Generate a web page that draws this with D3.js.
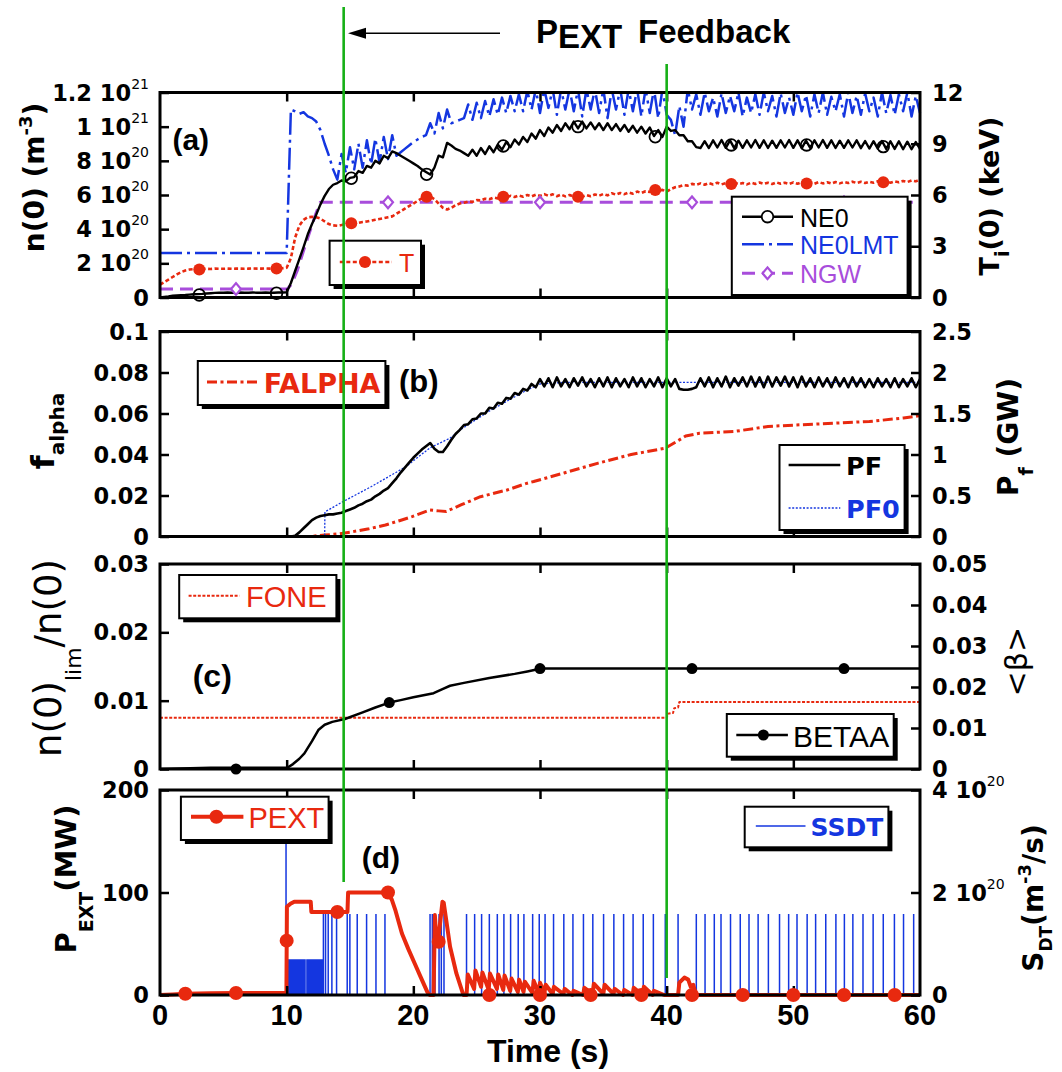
<!DOCTYPE html>
<html>
<head>
<meta charset="utf-8">
<script src="https://cdn.jsdelivr.net/npm/d3@7"></script>
<style>
html, body { margin: 0; padding: 0; background: #fff; }
svg { display: block; }
</style>
</head>
<body>
<svg id="chart" width="1062" height="1072"></svg>
<script>
// ------------------------------------------------------------------
// Data. Densely sampled traces use a fixed 1/3 s step from t = 0 s.
// ------------------------------------------------------------------
const STEP = 1 / 3;

// (a) central density NE0 [1e20 m^-3]
const ne0 = [
  0, .03, .06, .1, .12, .14, .15, .17, .19, .2, .21, .23, .25,
  .27, .28, .28, .29, .28, .28, .29, .28, .28, .29, .28, .28, .29, .28, .28, .29, .29,
  .3,
  .85, 1.55, 2.25, 2.95, 3.7, 4.3, 4.85, 5.45, 5.95, 6.35, 6.6,
  6.7, 6.85, 6.8, 7.0, 7.05, 7.4, 7.3, 7.7, 7.6, 8.0, 7.85, 8.3, 8.15, 8.55,
  8.45, 8.3, 8.15, 8.0, 7.85, 7.7, 7.5, 7.35, 7.2,
  7.6, 8.3, 8.2, 9.05,
  8.9, 8.7, 8.6, 8.45, 8.3,
  8.65, 8.3, 8.75, 8.4, 8.85, 8.5, 8.95, 8.65, 9.1, 8.8, 9.25, 8.95, 9.4, 9.1, 9.6, 9.3,
  9.8, 9.45, 9.95, 9.65, 10.1, 9.75, 10.2, 9.85, 10.3, 9.9, 10.3, 9.9, 10.25, 9.85, 10.2, 9.8,
  10.2, 9.8, 10.15, 9.75, 10.1, 9.7, 10.05, 9.65, 10.0, 9.6, 9.95, 9.45, 9.8, 9.4,
  10.0, 9.75, 9.8, 9.5, 9.5, 9.15, 9.15, 8.8, 8.75, 9.15,
  8.75, 9.2, 8.78, 9.22, 8.76, 9.2, 8.74, 9.18, 8.76, 9.2,
  8.78, 9.22, 8.76, 9.2, 8.75, 9.18, 8.76, 9.2, 8.78, 9.22,
  8.76, 9.2, 8.74, 9.18, 8.76, 9.2, 8.78, 9.22, 8.76, 9.2,
  8.75, 9.18, 8.76, 9.2, 8.78, 9.2, 8.74, 9.16, 8.72, 9.15,
  8.72, 9.16, 8.7, 9.14, 8.7, 9.14, 8.68, 9.12, 8.68, 9.1,
  8.7
];

// (a) density limit NE0LMT [1e20 m^-3]
const ne0lmt = [
  2.6, 2.6, 2.6, 2.6, 2.6, 2.6, 2.6, 2.6, 2.6, 2.6, 2.6, 2.6, 2.6, 2.6, 2.6, 2.6,
  2.6, 2.6, 2.6, 2.6, 2.6, 2.6, 2.6, 2.6, 2.6, 2.6, 2.6, 2.6, 2.6, 2.6, 2.6,
  11.0, 10.9, 10.75, 10.85, 10.6, 10.5, 10.3, 9.8, 9.0, 8.3, 7.5, 6.9,
  8.4, 7.3, 8.8, 7.5, 9.0, 7.6, 9.2, 7.8, 9.3, 7.9, 9.4, 8.1, 9.5, 8.3,
  8.5, 8.7, 8.9, 9.1, 9.25, 9.4, 9.5,
  10.2, 9.6, 10.8, 9.9, 11.0, 10.2, 10.3, 10.4, 10.5,
  11.3, 10.4, 11.4, 10.5, 11.5, 10.6, 11.6, 10.7, 11.7, 10.8, 11.8, 10.9, 11.9, 10.9,
  12.1, 11.0, 12.2, 10.8, 12.2, 11.1, 12.2, 10.7, 12.2, 11.0, 12.2, 10.9, 12.2, 10.6, 12.2, 11.0, 12.2,
  10.8, 12.2, 10.5, 12.2, 11.0, 12.2, 10.7, 12.2, 10.9, 12.2, 10.6, 12.2, 10.8, 12.2, 10.5, 12.2, 10.7,
  10.4, 9.5, 11.2, 10.0, 12.2, 11.0,
  11.9, 10.7, 12.0, 10.9, 11.7, 10.6, 11.95, 10.8, 11.8, 10.9, 12.0, 10.6, 11.7, 10.8,
  11.9, 10.7, 12.0, 10.9, 11.8, 10.6, 11.95, 10.8, 11.7, 10.7, 12.0, 10.9, 11.85, 10.6,
  11.9, 10.8, 12.0, 10.7, 11.75, 10.9, 11.9, 10.6, 12.0, 10.8, 11.8, 10.7, 11.95, 10.9,
  11.7, 10.6, 12.0, 10.8, 11.85, 10.7, 11.9, 10.9, 12.0, 10.6, 11.8, 10.8
];

// (a) ion temperature T [keV]
const tion = [
  0.75, 0.9, 1.05, 1.2, 1.35, 1.48, 1.58, 1.64, 1.66, 1.66,
  1.67, 1.68, 1.67, 1.69, 1.68, 1.68, 1.69, 1.68, 1.69, 1.69,
  1.68, 1.69, 1.7, 1.69, 1.69, 1.7, 1.69, 1.7, 1.7, 1.71,
  1.74, 2.3, 3.5, 4.2, 4.55, 4.7, 4.72, 4.7, 4.62, 4.45, 4.3, 4.22, 4.2, 4.24, 4.3,
  4.33, 4.35, 4.37, 4.42, 4.45, 4.5, 4.55, 4.6, 4.65, 4.7, 4.75, 4.9, 5.05, 5.2, 5.35,
  5.5, 5.65, 5.8, 5.9, 5.92, 5.75, 5.5, 5.25, 5.15, 5.25, 5.4, 5.5, 5.55,
  5.62, 5.6, 5.7, 5.68, 5.78, 5.75, 5.85, 5.8, 5.9, 5.85, 5.95, 5.88, 5.97, 5.9, 6.0, 5.92,
  6.02, 5.95, 6.05, 5.95, 6.04, 5.93, 6.02, 5.92, 6.0, 5.9, 5.95, 5.9, 6.0, 5.93, 6.03, 5.96,
  6.06, 5.98, 6.1, 6.02, 6.12, 6.05, 6.15, 6.08, 6.2, 6.12, 6.22, 6.18, 6.3, 6.25, 6.3,
  6.2, 6.35, 6.45, 6.5, 6.58, 6.55, 6.65, 6.6, 6.68, 6.6,
  6.7, 6.62, 6.72, 6.62, 6.7, 6.63, 6.72, 6.64, 6.7, 6.62,
  6.72, 6.65, 6.73, 6.65, 6.72, 6.64, 6.74, 6.66, 6.72, 6.65,
  6.74, 6.66, 6.75, 6.68, 6.74, 6.66, 6.76, 6.68, 6.75, 6.67,
  6.76, 6.68, 6.76, 6.7, 6.78, 6.7, 6.77, 6.7, 6.78, 6.72,
  6.8, 6.72, 6.78, 6.72, 6.8, 6.74, 6.82, 6.76, 6.85, 6.8,
  6.9
];

// (a) Greenwald density NGW [1e20 m^-3], as (t, value)
const ngw = [[0, 0.5], [10.05, 0.5], [10.4, 0.8], [10.85, 1.6], [11.4, 2.9], [11.85, 3.9],
  [12.3, 4.9], [12.65, 5.57], [60, 5.57]];

// (a) marker positions
const ne0Marks = [[3.1, 0.15], [9.2, 0.25], [15.1, 6.98], [21.05, 7.21], [27.1, 8.87],
  [33.0, 10.0], [39.1, 9.41], [45.1, 8.93], [51.05, 8.93], [57.1, 8.83]];
const tionMarks = [[3.1, 1.64], [9.2, 1.7], [15.1, 4.34], [21.05, 5.9], [27.1, 5.9],
  [33.0, 5.9], [39.1, 6.29], [45.1, 6.64], [51.05, 6.68], [57.1, 6.74]];
const ngwMarks = [[6, 0.5], [18, 5.57], [30, 5.57], [42, 5.57], [54, 5.57]];

// (b) fusion power PF [GW]
const pf = [
  0, 0, 0, 0, 0, 0, 0, 0, 0, 0, 0, 0, 0, 0, 0, 0,
  0, 0, 0, 0, 0, 0, 0, 0, 0, 0, 0, 0, 0, 0, 0, 0,
  0.01, 0.05, 0.1, 0.15, 0.2, 0.23, 0.25, 0.26, 0.27, 0.27, 0.28, 0.29, 0.31, 0.33,
  0.35, 0.38, 0.4, 0.43, 0.45, 0.49, 0.52, 0.56, 0.59, 0.65, 0.71, 0.78, 0.84, 0.9,
  0.96, 1.01, 1.06, 1.1, 1.14, 1.07, 1.03, 1.03, 1.1, 1.18, 1.25, 1.3, 1.36,
  1.37, 1.43, 1.44, 1.5, 1.5, 1.57, 1.56, 1.63, 1.62, 1.69, 1.68, 1.75, 1.73, 1.8, 1.78, 1.86, 1.82,
  1.92, 1.83, 1.93, 1.82, 1.94, 1.83, 1.92, 1.82, 1.93, 1.84, 1.94, 1.83, 1.92, 1.82, 1.93, 1.83,
  1.94, 1.82, 1.93, 1.83, 1.92, 1.82, 1.94, 1.83, 1.93, 1.82, 1.92, 1.83, 1.94, 1.82, 1.93, 1.83, 1.92,
  1.8, 1.79, 1.79, 1.8, 1.82,
  1.93, 1.83, 1.94, 1.82, 1.93, 1.83, 1.95, 1.82, 1.93, 1.84,
  1.94, 1.83, 1.95, 1.83, 1.94, 1.82, 1.95, 1.83, 1.94, 1.84,
  1.95, 1.83, 1.94, 1.82, 1.95, 1.83, 1.93, 1.82, 1.94, 1.83,
  1.93, 1.82, 1.94, 1.83, 1.93, 1.82, 1.94, 1.83, 1.93, 1.82,
  1.92, 1.82, 1.93, 1.83, 1.92, 1.82, 1.93, 1.82, 1.92, 1.83,
  1.93, 1.82, 1.92
];

// (b) reference fusion power PF0 [GW]
const pf0 = [[0, 0], [13.0, 0], [13.02, 0.3], [14.5, 0.43], [16.7, 0.61], [19.4, 0.85],
  [21.3, 1.08], [22.9, 1.2], [23.9, 1.32], [26, 1.53], [28.9, 1.78], [30, 1.86], [32, 1.88], [60, 1.88]];

// (b) alpha fraction FALPHA
const falpha = [[0, 0], [11.8, 0], [13.0, 0.0007], [14.0, 0.0012], [15.1, 0.0022], [16.5, 0.0038],
  [17.8, 0.0056], [18.9, 0.0077], [19.9, 0.0097], [21.3, 0.0129], [22.0, 0.0125], [22.6, 0.0122],
  [23.8, 0.0155], [25.3, 0.0194], [27.4, 0.0227], [29.0, 0.026], [29.5, 0.0268], [31.9, 0.031],
  [34.6, 0.0358], [37.2, 0.04], [39.9, 0.0431], [40.7, 0.046], [41.5, 0.049], [42.6, 0.0504],
  [45.3, 0.0512], [48.0, 0.0537], [50.6, 0.0545], [53.3, 0.0553], [56.0, 0.0561], [58.7, 0.0578], [60, 0.059]];

// (c) density-limit ratio FONE and volume-averaged beta BETAA
const fone = [[0, 0.0075], [40.0, 0.0075], [40.1, 0.0081], [40.5, 0.0082], [40.6, 0.0089],
  [40.9, 0.009], [41.0, 0.0098], [60, 0.0098]];
const betaa = [[0, 0], [4, 0.0003], [10.05, 0.0003], [10.5, 0.0012], [11, 0.0025], [11.4, 0.0038],
  [12, 0.0068], [12.5, 0.0095], [13, 0.0108], [13.6, 0.0115], [14.6, 0.0122], [16, 0.0138],
  [17, 0.015], [18.1, 0.0162], [19, 0.0168], [20, 0.0175], [21.6, 0.0185], [22.3, 0.0195],
  [22.9, 0.0203], [24, 0.021], [26, 0.0222], [28, 0.0232], [29, 0.0238], [30.1, 0.0245], [60, 0.0245]];
const betaaMarks = [[6, 0], [18.1, 0.0162], [30, 0.0245], [42, 0.0245], [54, 0.0245]];

// (d) external heating power PEXT [MW]
const pext = [[0, 0], [1, 0.5], [2, 1.2], [4, 1.8], [6, 2], [9.98, 2], [10.02, 86], [10.3, 89],
  [10.6, 91], [11.9, 91], [11.95, 81], [14.8, 81], [14.85, 100], [17.95, 100], [18.3, 93],
  [18.6, 82], [19.1, 60], [19.6, 45], [20.1, 31], [20.6, 17], [21.1, 3], [21.3, 0], [21.6, 0],
  [21.7, 78], [21.85, 48], [21.95, 52], [22.3, 91], [22.4, 90], [22.9, 47], [23.4, 21], [23.95, 0],
  [24.2, 0], [24.3, 20], [24.8, 6], [24.9, 24], [25.35, 8], [25.45, 22], [25.95, 5], [26.05, 21],
  [26.6, 6], [26.7, 20], [27.1, 5], [27.2, 19], [27.65, 4], [27.75, 16], [28.25, 3], [28.35, 15],
  [28.7, 3], [28.8, 13], [29.4, 2], [29.5, 14], [29.9, 2], [30.0, 12], [30.35, 2], [30.45, 10],
  [31.0, 1], [31.1, 8], [31.85, 1], [31.95, 6], [32.55, 0], [32.65, 4], [33.4, 0], [33.5, 7],
  [34.15, 1], [34.25, 11], [35.0, 1], [35.1, 10], [35.8, 1], [35.9, 6], [36.55, 0], [36.65, 5],
  [37.3, 0], [37.4, 7], [38.1, 0], [38.2, 8], [38.9, 0], [39.0, 4], [39.8, 0], [40.9, 0],
  [41.0, 12], [41.4, 17], [41.7, 15], [41.9, 8], [42.1, 10], [42.3, 0], [60, 0]];
const pextMarks = [[2, 1.2], [6, 2], [10, 53], [14, 81], [18, 100], [22, 52], [26, 0], [30, 0],
  [34, 0], [38, 0], [42, 0], [46, 0], [50, 0], [54, 0], [58, 0]];

// (d) pellet fuelling source SSDT [1e20 m^-3/s]
const ssdtTall = [[9.95, 2.95], [10.0, 1.72]];
const SSDT_LOW = 0.7;
const ssdtLowTimes = [10.05, 10.15, 10.25, 10.35, 10.45, 10.55, 10.65, 10.75, 10.85, 10.95,
  11.05, 11.15, 11.25, 11.35, 11.45, 11.6, 11.7, 11.8, 11.9, 12.0, 12.1, 12.2, 12.3, 12.4,
  12.5, 12.6, 12.7, 12.8];
const SSDT_PULSE = 1.58;
const ssdtPulseTimes = [12.9, 13.07, 13.28, 13.57, 13.94, 14.78, 14.99, 15.57, 16.31, 17.05,
  17.76, 21.32, 21.5, 21.71, 22.03, 22.21, 22.42, 24.2, 24.84, 25.39, 26.0, 26.63, 27.15,
  27.68, 28.28, 28.73, 29.42, 29.94, 30.4, 31.07, 31.88, 32.6, 33.43, 34.17, 35.02, 35.83,
  36.6, 37.35, 38.15, 38.95, 39.89, 40.9, 42.34, 43.03, 43.76, 44.29, 45.04, 45.81, 46.5,
  47.22, 48.03, 48.91, 49.63, 50.29, 51.09, 51.76, 52.56, 53.36, 54.03, 54.7, 55.5, 56.3,
  57.1, 57.98, 58.7, 59.5];

// feedback window markers [s]
const feedbackStart = 14.5, feedbackEnd = 40.0;

// axis ticks
const timeTicks = [0, 10, 20, 30, 40, 50, 60];
const neTicks = [0, 2, 4, 6, 8, 10, 12];
const neTickText = [["0", ""], ["2 10", "20"], ["4 10", "20"], ["6 10", "20"], ["8 10", "20"], ["1 10", "21"], ["1.2 10", "21"]];
const tiTicks = [0, 3, 6, 9, 12];
const faTicks = [0, 0.02, 0.04, 0.06, 0.08, 0.1];
const faTickText = ["0", "0.02", "0.04", "0.06", "0.08", "0.1"];
const pfTicks = [0, 0.5, 1, 1.5, 2, 2.5];
const pfTickText = ["0", "0.5", "1", "1.5", "2", "2.5"];
const nlTicks = [0, 0.01, 0.02, 0.03];
const nlTickText = ["0", "0.01", "0.02", "0.03"];
const btTicks = [0, 0.01, 0.02, 0.03, 0.04, 0.05];
const btTickText = ["0", "0.01", "0.02", "0.03", "0.04", "0.05"];
const peTicks = [0, 100, 200];
const sdTicks = [0, 2, 4];
const sdTickText = [["0", ""], ["2 10", "20"], ["4 10", "20"]];

// ------------------------------------------------------------------
// Drawing
// ------------------------------------------------------------------
const NARROW = "'Liberation Sans', Arial, Helvetica, sans-serif";
const WIDE = "'DejaVu Sans', Verdana, sans-serif";
const RED = "#e8290f", BLUE = "#1436e0", PURPLE = "#a84ddb", GREEN = "#16b016";

const svg = d3.select("#chart");
const X0 = 160, X1 = 920;
const x = d3.scaleLinear().domain([0, 60]).range([X0, X1]);

const sampled = arr => arr.map((v, i) => [i * STEP, v]);

const PA = { top: 92.5, bottom: 297.5 };
const PB = { top: 331.5, bottom: 536.5 };
const PC = { top: 564, bottom: 769 };
const PD = { top: 790, bottom: 995 };

const yNe = d3.scaleLinear().domain([0, 12]).range([PA.bottom, PA.top]);
const yTi = d3.scaleLinear().domain([0, 12]).range([PA.bottom, PA.top]);
const yFa = d3.scaleLinear().domain([0, 0.1]).range([PB.bottom, PB.top]);
const yPf = d3.scaleLinear().domain([0, 2.5]).range([PB.bottom, PB.top]);
const yNl = d3.scaleLinear().domain([0, 0.03]).range([PC.bottom, PC.top]);
const yBt = d3.scaleLinear().domain([0, 0.05]).range([PC.bottom, PC.top]);
const yPe = d3.scaleLinear().domain([0, 200]).range([PD.bottom, PD.top]);
const ySd = d3.scaleLinear().domain([0, 4]).range([PD.bottom, PD.top]);

const defs = svg.append("defs");
function clipFor(id, p) {
  defs.append("clipPath").attr("id", id).append("rect")
    .attr("x", X0 - 2).attr("y", p.top).attr("width", X1 - X0 + 4).attr("height", p.bottom - p.top + 4);
  return svg.append("g").attr("clip-path", `url(#${id})`);
}

function drawLine(g, data, yScale, style) {
  const line = d3.line().x(d => x(d[0])).y(d => yScale(d[1]));
  return g.append("path").datum(data).attr("d", line)
    .attr("fill", "none").attr("stroke", style.color).attr("stroke-width", style.width)
    .attr("stroke-dasharray", style.dash || null)
    .attr("stroke-linejoin", "round");
}

// text with super/subscript parts; shift > 0 moves down
function rich(text, parts, size) {
  let cur = 0;
  parts.forEach(p => {
    const off = p.shift || 0;
    const ts = text.append("tspan").text(p.text);
    if (off - cur !== 0) ts.attr("dy", off - cur);
    ts.attr("font-size", p.size || size);
    if (p.weight) ts.attr("font-weight", p.weight);
    cur = off;
  });
  return text;
}

function frameAndTicks(p, yl, ylTicks, yr, yrTicks) {
  const g = svg.append("g");
  const inner = timeTicks.slice(1, -1);
  g.append("g").attr("transform", `translate(0,${p.bottom})`)
    .call(d3.axisBottom(x).tickValues(inner).tickSize(-9).tickFormat(""));
  g.append("g").attr("transform", `translate(0,${p.top})`)
    .call(d3.axisTop(x).tickValues(inner).tickSize(-9).tickFormat(""));
  g.append("g").attr("transform", `translate(${X0},0)`)
    .call(d3.axisLeft(yl).tickValues(ylTicks).tickSize(-9).tickFormat(""));
  g.append("g").attr("transform", `translate(${X1},0)`)
    .call(d3.axisRight(yr).tickValues(yrTicks).tickSize(-9).tickFormat(""));
  g.selectAll(".domain").remove();
  g.selectAll(".tick line").attr("stroke", "#000").attr("stroke-width", 2.5);
  g.append("rect").attr("x", X0).attr("y", p.top).attr("width", X1 - X0).attr("height", p.bottom - p.top)
    .attr("fill", "none").attr("stroke", "#000").attr("stroke-width", 3);
}

function leftLabels(scale, ticks, labels) {
  ticks.forEach((v, i) => {
    const lab = labels[i];
    const t = svg.append("text").attr("x", 149).attr("y", scale(v)).attr("dy", "0.36em")
      .attr("text-anchor", "end").attr("font-family", WIDE).attr("font-weight", "bold").attr("font-size", 22.5);
    if (Array.isArray(lab)) {
      rich(t, [{ text: lab[0] }, { text: lab[1], shift: -12, size: 14, weight: "normal" }], 22.5);
    } else t.text(lab);
  });
}
function rightLabels(scale, ticks, labels) {
  ticks.forEach((v, i) => {
    const lab = labels[i];
    const t = svg.append("text").attr("x", 932).attr("y", scale(v)).attr("dy", "0.36em")
      .attr("text-anchor", "start").attr("font-family", WIDE).attr("font-weight", "bold").attr("font-size", 22.5);
    if (Array.isArray(lab)) {
      rich(t, [{ text: lab[0] }, { text: lab[1], shift: -12, size: 14, weight: "normal" }], 22.5);
    } else t.text(lab);
  });
}

function vTitle(bx, cy, parts, size, weight, family) {
  const t = svg.append("text").attr("transform", `translate(${bx},${cy}) rotate(-90)`)
    .attr("text-anchor", "middle").attr("font-family", family || WIDE)
    .attr("font-weight", weight).attr("font-size", size);
  rich(t, parts, size);
}

function legendBox(x0, y0, x1, y1) {
  svg.append("rect").attr("x", x0 + 4).attr("y", y0 + 4).attr("width", x1 - x0).attr("height", y1 - y0).attr("fill", "#000");
  svg.append("rect").attr("x", x0).attr("y", y0).attr("width", x1 - x0).attr("height", y1 - y0)
    .attr("fill", "#fff").attr("stroke", "#000").attr("stroke-width", 2);
}
function legendLine(xa, xb, y, style) {
  svg.append("line").attr("x1", xa).attr("x2", xb).attr("y1", y).attr("y2", y)
    .attr("stroke", style.color).attr("stroke-width", style.width).attr("stroke-dasharray", style.dash || null);
}
function legendText(xp, y, str, color, size, weight, family) {
  svg.append("text").attr("x", xp).attr("y", y).attr("dy", "0.36em")
    .attr("font-family", family).attr("font-weight", weight).attr("font-size", size)
    .attr("fill", color).text(str);
}
function dot(cx, cy, r, fill, stroke, sw) {
  svg.append("circle").attr("cx", cx).attr("cy", cy).attr("r", r)
    .attr("fill", fill).attr("stroke", stroke || "none").attr("stroke-width", sw || 0);
}
function diamond(cx, cy, color) {
  svg.append("path").attr("d", d3.symbol(d3.symbolDiamond, 55)())
    .attr("transform", `translate(${cx},${cy}) scale(1.25,0.85)`)
    .attr("fill", "#fff").attr("stroke", color).attr("stroke-width", 2);
}
function panelTag(xp, yp, str, size) {
  svg.append("text").attr("x", xp).attr("y", yp).attr("font-family", NARROW)
    .attr("font-weight", "bold").attr("font-size", size).text(str);
}

const S_NE0 = { color: "#000", width: 2.4 };
const S_LMT = { color: BLUE, width: 2.5, dash: "22,5,3,5" };
const S_NGW = { color: PURPLE, width: 3, dash: "13,7" };
const S_TI = { color: RED, width: 2.6, dash: "4,2.5" };
const S_PF = { color: "#000", width: 2.6 };
const S_PF0 = { color: BLUE, width: 1.3, dash: "2,1.6" };
const S_FA = { color: RED, width: 3, dash: "10,3.5,3,3.5" };
const S_FONE = { color: RED, width: 2, dash: "3,1.6" };
const S_BT = { color: "#000", width: 2.5 };
const S_PE = { color: RED, width: 4 };
const S_SD = { color: BLUE, width: 1.5 };

// ---------------- panel (a) ----------------
const ga = clipFor("clipA", PA);
drawLine(ga, ngw, yNe, S_NGW);
drawLine(ga, sampled(tion), yTi, S_TI);
drawLine(ga, sampled(ne0lmt), yNe, S_LMT);
drawLine(ga, sampled(ne0), yNe, S_NE0);
frameAndTicks(PA, yNe, neTicks, yTi, tiTicks);
ngwMarks.forEach(d => diamond(x(d[0]), yNe(d[1]), PURPLE));
tionMarks.forEach(d => dot(x(d[0]), yTi(d[1]), 6, RED));
ne0Marks.forEach(d => dot(x(d[0]), yNe(d[1]), 5.8, "none", "#000", 1.8));
leftLabels(yNe, neTicks, neTickText);
rightLabels(yTi, tiTicks, tiTicks.map(String));
panelTag(172.4, 150, "(a)", 30);

legendBox(329.6, 240.7, 421, 285);
legendLine(339.8, 392, 262, S_TI);
dot(365, 262, 6, RED);
legendText(399, 263, "T", RED, 25, "normal", NARROW);

legendBox(731.8, 196.7, 907.6, 295);
legendLine(742, 793, 216.7, S_NE0);
dot(767.5, 216.7, 5.8, "#fff", "#000", 1.8);
legendText(800, 217.5, "NE0", "#000", 25, "normal", NARROW);
legendLine(742, 793, 244.3, S_LMT);
legendText(800, 245, "NE0LMT", BLUE, 25, "normal", NARROW);
legendLine(742, 793, 273.3, S_NGW);
diamond(767.5, 273.3, PURPLE);
legendText(800, 274, "NGW", PURPLE, 25, "normal", NARROW);

vTitle(44, 177.5, [{ text: "n(0) (m" }, { text: "-3", shift: -12, size: 18 }, { text: ")" }], 28, "bold");
vTitle(999, 196, [{ text: "T" }, { text: "i", shift: 10, size: 19 }, { text: "(0) (keV)" }], 27, "bold");

// ---------------- panel (b) ----------------
const gb = clipFor("clipB", PB);
drawLine(gb, falpha, yFa, S_FA);
drawLine(gb, pf0, yPf, S_PF0);
drawLine(gb, sampled(pf), yPf, S_PF);
frameAndTicks(PB, yFa, faTicks, yPf, pfTicks);
leftLabels(yFa, faTicks, faTickText);
rightLabels(yPf, pfTicks, pfTickText);

legendBox(197.8, 361, 385.4, 405);
legendLine(207, 259, 382, S_FA);
legendText(263.7, 383, "FALPHA", RED, 27, "bold", WIDE);
panelTag(399, 392, "(b)", 31);

legendBox(779.5, 445, 904.6, 530);
legendLine(788.6, 840.3, 465, S_PF);
legendText(846, 466, "PF", "#000", 25.5, "bold", WIDE);
legendLine(788.6, 840.3, 508, S_PF0);
legendText(846, 509, "PF0", BLUE, 25.5, "bold", WIDE);

vTitle(54, 431, [{ text: "f", size: 32 }, { text: "alpha", shift: 10, size: 20 }], 32, "bold");
vTitle(1018, 437, [{ text: "P" }, { text: "f", shift: 15, size: 19 }, { text: " (GW)" }], 28, "bold");

// ---------------- panel (c) ----------------
const gc = clipFor("clipC", PC);
drawLine(gc, fone, yNl, S_FONE);
drawLine(gc, betaa, yBt, S_BT);
frameAndTicks(PC, yNl, nlTicks, yBt, btTicks);
betaaMarks.forEach(d => dot(x(d[0]), yBt(d[1]), 5.5, "#000"));
leftLabels(yNl, nlTicks, nlTickText);
rightLabels(yBt, btTicks, btTickText);

legendBox(179.2, 575, 336.4, 618.3);
legendLine(188.6, 239.4, 595.7, S_FONE);
legendText(246, 597, "FONE", RED, 29, "normal", NARROW);
panelTag(192.7, 687, "(c)", 32);

legendBox(726.8, 714, 893.7, 756.7);
legendLine(736.3, 787.9, 735, S_BT);
dot(763.4, 735, 5.5, "#000");
legendText(793, 736, "BETAA", "#000", 30, "normal", NARROW);

vTitle(61, 658, [{ text: "n(0)" }, { text: "lim", shift: 20, size: 22 }, { text: "/n(0)" }], 37, "normal");
vTitle(1027, 661.7, [{ text: "<\u03b2>" }], 30, "normal");

// ---------------- panel (d) ----------------
const gd = clipFor("clipD", PD);
const spikePath = pts => pts.map(d => `M${x(d[0])},${ySd(0)}V${ySd(d[1])}`).join("");
gd.append("path")
  .attr("d", spikePath(ssdtTall) + spikePath(ssdtLowTimes.map(t => [t, SSDT_LOW]))
    + spikePath(ssdtPulseTimes.map(t => [t, SSDT_PULSE])))
  .attr("fill", "none").attr("stroke", S_SD.color).attr("stroke-width", S_SD.width);
frameAndTicks(PD, yPe, peTicks, ySd, sdTicks);
drawLine(gd, pext, yPe, S_PE);
pextMarks.forEach(d => dot(x(d[0]), yPe(d[1]), 7, RED));
leftLabels(yPe, peTicks, peTicks.map(String));
rightLabels(ySd, sdTicks, sdTickText);

legendBox(180.9, 796.7, 328.6, 840);
legendLine(191, 243.4, 816.7, S_PE);
dot(216.4, 816.7, 7, RED);
legendText(248.5, 818, "PEXT", RED, 29, "normal", NARROW);
panelTag(361.7, 868, "(d)", 30);

legendBox(744.7, 806.7, 888.4, 847.3);
legendLine(755.8, 805.5, 826, S_SD);
legendText(810.6, 827, "SSDT", BLUE, 25, "bold", WIDE);

vTitle(76, 879, [{ text: "P" }, { text: "EXT", shift: 17, size: 19 }, { text: "(MW)" }], 29, "bold");
vTitle(1043, 898, [{ text: "S" }, { text: "DT", shift: 9, size: 17 }, { text: "(m" },
  { text: "-3", shift: -12, size: 18 }, { text: "/s)" }], 28, "bold");

// time axis labels
timeTicks.forEach(t => {
  svg.append("text").attr("x", x(t)).attr("y", 1025).attr("text-anchor", "middle")
    .attr("font-family", NARROW).attr("font-weight", "bold").attr("font-size", 29).text(t);
});
svg.append("text").attr("x", 548).attr("y", 1062).attr("text-anchor", "middle")
  .attr("font-family", NARROW).attr("font-weight", "bold").attr("font-size", 32).text("Time (s)");

// ---------------- feedback window ----------------
svg.append("line").attr("x1", x(feedbackStart)).attr("x2", x(feedbackStart)).attr("y1", 7).attr("y2", 882)
  .attr("stroke", GREEN).attr("stroke-width", 2.6);
svg.append("line").attr("x1", x(feedbackEnd)).attr("x2", x(feedbackEnd)).attr("y1", 64).attr("y2", 978)
  .attr("stroke", GREEN).attr("stroke-width", 2.6);

svg.append("line").attr("x1", 500).attr("x2", 362).attr("y1", 33.3).attr("y2", 33.3)
  .attr("stroke", "#000").attr("stroke-width", 1.6);
svg.append("path").attr("d", "M348,33.3L366,27.8L366,38.8Z").attr("fill", "#000");

const title = svg.append("text").attr("x", 536).attr("y", 42.7)
  .attr("font-family", NARROW).attr("font-weight", "bold").attr("font-size", 33);
rich(title, [{ text: "P" }, { text: "EXT", shift: 5.6 }], 33);
svg.append("text").attr("x", 638).attr("y", 42.7)
  .attr("font-family", NARROW).attr("font-weight", "bold").attr("font-size", 33).text("Feedback");
</script>
</body>
</html>
